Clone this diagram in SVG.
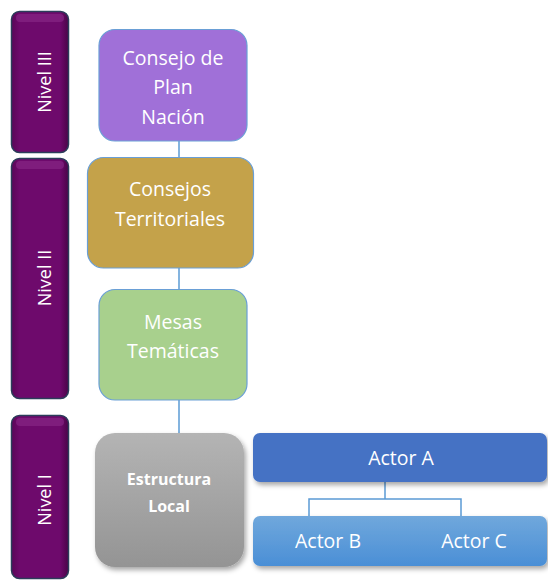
<svg xmlns="http://www.w3.org/2000/svg" width="548" height="582" viewBox="0 0 548 582">
<defs>
<linearGradient id="barG" x1="0" y1="0" x2="1" y2="0">
<stop offset="0" stop-color="#5a0658"/>
<stop offset="0.15" stop-color="#6e0a6c"/>
<stop offset="0.85" stop-color="#6e0a6c"/>
<stop offset="1" stop-color="#4a0448"/>
</linearGradient>
<linearGradient id="grayG" x1="0" y1="0" x2="0" y2="1">
<stop offset="0" stop-color="#b4b4b4"/>
<stop offset="1" stop-color="#949494"/>
</linearGradient>
<linearGradient id="blueG" x1="0" y1="0" x2="0" y2="1">
<stop offset="0" stop-color="#70a8dc"/>
<stop offset="1" stop-color="#4a8fd6"/>
</linearGradient>
<filter id="sh" x="-10%" y="-10%" width="130%" height="130%">
<feDropShadow dx="2" dy="3" stdDeviation="2.5" flood-color="#000" flood-opacity="0.35"/>
</filter>
</defs>
<style>
.bar{fill:url(#barG);stroke:#2b3e5a;stroke-width:1.5}
.barhi{fill:#8a2a88;opacity:0.6}
.lvl{font-family:"Open Sans","Noto Sans",sans-serif;font-size:18px;fill:#fff;text-anchor:middle}
.t{font-family:"Open Sans","Noto Sans",sans-serif;font-size:19.5px;fill:#fff;text-anchor:middle}
.tb{font-family:"Open Sans","Noto Sans",sans-serif;font-size:16px;font-weight:bold;fill:#fff;text-anchor:middle}
.box{stroke:#6a9fd6;stroke-width:1.2}
.conn{fill:none;stroke:#5b9bd5;stroke-width:1.5}
</style>
<g id="connectors">
<line class="conn" x1="179" y1="141" x2="179" y2="157"/>
<line class="conn" x1="179" y1="268" x2="179" y2="289"/>
<line class="conn" x1="179" y1="400" x2="179" y2="433"/>
<path class="conn" d="M385 482 V499 M309 516 V499 H461 V516"/>
</g>
<g id="nivel3">
<rect class="bar" x="11.5" y="11.5" width="57" height="141" rx="8"/>
<rect class="barhi" x="16" y="14" width="48" height="8" rx="4"/>
<text class="lvl" transform="translate(51 82) rotate(-90)">Nivel III</text>
</g>
<g id="nivel2">
<rect class="bar" x="11.5" y="158.5" width="57" height="240" rx="8"/>
<rect class="barhi" x="16" y="161" width="48" height="8" rx="4"/>
<text class="lvl" transform="translate(51 278) rotate(-90)">Nivel II</text>
</g>
<g id="nivel1">
<rect class="bar" x="11.5" y="415.5" width="57" height="163" rx="8"/>
<rect class="barhi" x="16" y="418" width="48" height="8" rx="4"/>
<text class="lvl" transform="translate(51 500) rotate(-90)">Nivel I</text>
</g>
<g id="consejo-plan">
<rect class="box" x="99" y="29.5" width="148" height="111.5" rx="16" fill="#a070d8"/>
<text class="t" x="173" y="65">Consejo de</text>
<text class="t" x="173" y="94">Plan</text>
<text class="t" x="173" y="124">Nación</text>
</g>
<g id="consejos-territoriales">
<rect class="box" x="87.5" y="157.5" width="166" height="110.5" rx="16" fill="#c4a24a"/>
<text class="t" x="170" y="196">Consejos</text>
<text class="t" x="170" y="226">Territoriales</text>
</g>
<g id="mesas-tematicas">
<rect class="box" x="99" y="289.5" width="148" height="110.5" rx="16" fill="#a8d08d"/>
<text class="t" x="173" y="329">Mesas</text>
<text class="t" x="173" y="358">Temáticas</text>
</g>
<g id="estructura-local">
<rect x="95" y="433" width="149" height="134" rx="20" fill="url(#grayG)" filter="url(#sh)"/>
<text class="tb" x="169" y="485">Estructura</text>
<text class="tb" x="169" y="512">Local</text>
</g>
<g id="actor-a">
<rect x="253" y="433" width="294" height="49" rx="7" fill="#4472c4" filter="url(#sh)"/>
<text class="t" x="401" y="465">Actor A</text>
</g>
<g id="actor-bc">
<rect x="253" y="516" width="294" height="50" rx="7" fill="url(#blueG)" filter="url(#sh)"/>
<text class="t" x="328" y="548">Actor B</text>
<text class="t" x="474" y="548">Actor C</text>
</g>
</svg>
